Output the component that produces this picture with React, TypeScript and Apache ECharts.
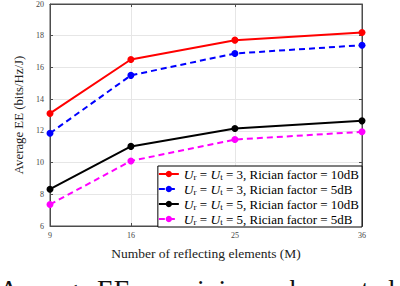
import React, { useEffect, useRef } from "react";
import * as echarts from "echarts";

const xTicks = [9, 16, 25, 36];
const seriesNames = ["Ur3_10", "Ur3_5", "Ur5_10", "Ur5_5"];
const legendLabels = [
  "3, Rician factor = 10dB",
  "3, Rician factor = 5dB",
  "5, Rician factor = 10dB",
  "5, Rician factor = 5dB",
];
const red3_10 = [13.1, 16.5, 17.72, 18.2];
const blue3_5 = [11.85, 15.5, 16.88, 17.4];
const black5_10 = [8.32, 11.02, 12.15, 12.63];
const magenta5_5 = [7.36, 10.1, 11.45, 11.94];
const colors = ["#ff0000", "#0000ff", "#000000", "#ff00ff"];
const dashed = [false, true, false, true];
const values = [red3_10, blue3_5, black5_10, magenta5_5];

const FONT = "'Liberation Serif', 'Times New Roman', serif";
const AX = "#4d4d4d";

export default function App() {
  const ref = useRef<HTMLDivElement>(null);
  useEffect(() => {
    if (!ref.current) return;
    const chart = echarts.init(ref.current, null, { renderer: "svg" });
    chart.setOption({
      animation: false,
      textStyle: { fontFamily: FONT },
      grid: {
        left: 50,
        right: 38,
        top: 3,
        bottom: 60,
        show: true,
        borderColor: AX,
        borderWidth: 1,
      },
      xAxis: [
        {
          type: "value",
          min: 9,
          max: 36,
          name: "Number of reflecting elements (M)",
          nameLocation: "middle",
          nameGap: 20,
          nameTextStyle: { fontFamily: FONT, fontSize: 13.5, color: "#222" },
          axisLine: { show: true, lineStyle: { color: AX } },
          axisTick: { show: true, inside: true, length: 3, customValues: xTicks, lineStyle: { color: AX } },
          axisLabel: { customValues: xTicks, fontSize: 8, color: "#444", fontFamily: FONT, margin: 5 },
          splitLine: { show: true, lineStyle: { color: "#e6e6e6" } },
        },
        {
          type: "value",
          position: "top",
          min: 9,
          max: 36,
          axisLine: { show: true, lineStyle: { color: AX } },
          axisTick: { show: true, inside: true, length: 3, customValues: xTicks, lineStyle: { color: AX } },
          axisLabel: { show: false },
          splitLine: { show: false },
        },
      ],
      yAxis: [
        {
          type: "value",
          min: 6,
          max: 20,
          interval: 2,
          name: "Average EE (bits/Hz/J)",
          nameLocation: "middle",
          nameGap: 22,
          nameTextStyle: { fontFamily: FONT, fontSize: 12.8, color: "#222" },
          axisLine: { show: true, lineStyle: { color: AX } },
          axisTick: { show: true, inside: true, length: 3, lineStyle: { color: AX } },
          axisLabel: { fontSize: 8, color: "#444", fontFamily: FONT, margin: 6 },
          splitLine: { show: true, lineStyle: { color: "#e6e6e6" } },
        },
        {
          type: "value",
          position: "right",
          min: 6,
          max: 20,
          interval: 2,
          axisLine: { show: true, lineStyle: { color: AX } },
          axisTick: { show: true, inside: true, length: 3, lineStyle: { color: AX } },
          axisLabel: { show: false },
          splitLine: { show: false },
        },
      ],
      legend: {
        data: seriesNames,
        orient: "vertical",
        right: 38,
        bottom: 59,
        backgroundColor: "#fff",
        borderColor: "#000",
        borderWidth: 1,
        borderRadius: 0,
        padding: [1, 3, 1, 0],
        itemGap: 1,
        itemWidth: 20,
        itemHeight: 8,
        formatter: (name: string) => {
          const i = seriesNames.indexOf(name);
          return "{i|U}{s|r}{n| = }{i|U}{s|t}{n| = " + legendLabels[i] + "}";
        },
        textStyle: {
          fontFamily: FONT,
          fontSize: 13,
          color: "#000",
          rich: {
            i: { fontFamily: FONT, fontStyle: "italic", fontSize: 13.5, color: "#000" },
            s: { fontFamily: FONT, fontSize: 9, color: "#000", verticalAlign: "bottom", padding: [5, 0, 0, 0] },
            n: { fontFamily: FONT, fontSize: 13, color: "#000" },
          },
        },
      },
      series: values.map((v, i) => ({
        name: seriesNames[i],
        type: "line",
        data: v.map((y, j) => [xTicks[j], y]),
        symbol: "circle",
        symbolSize: 7,
        itemStyle: { color: colors[i] },
        lineStyle: { color: colors[i], width: 2, type: dashed[i] ? [6, 4] : "solid" },
      })),
      graphic: [
        {
          type: "text",
          left: -1,
          top: 275,
          style: {
            text: "Average EE vs. minimum harvested",
            font: "27.5px 'Liberation Serif', serif",
            fill: "#111",
          },
        },
      ],
    });
    return () => chart.dispose();
  }, []);
  return (
    <div
      ref={ref}
      style={{ position: "fixed", left: 0, top: 0, width: 400, height: 286, background: "#fff" }}
    />
  );
}
